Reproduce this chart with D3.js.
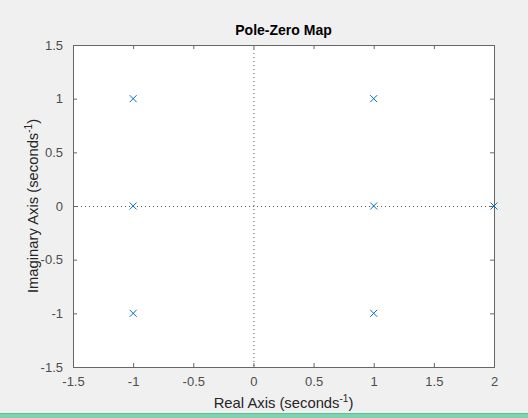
<!DOCTYPE html>
<html lang="en">
<head>
<meta charset="UTF-8">
<title>Pole-Zero Map</title>
<script src="https://cdnjs.cloudflare.com/ajax/libs/d3/7.8.5/d3.min.js"></script>
<style>
  body { margin: 0; background: #f0f0f0; font-family: "Liberation Sans", Arial, sans-serif; }
  svg { display: block; }
  .tick text { fill: #4d4d4d; font-size: 13px; }
</style>
</head>
<body>
<svg id="chart" width="528" height="418"></svg>
<script>
// poles
const poleRe = [-1, -1, -1, 1, 1, 1, 2];
const poleIm = [1, 0, -1, 1, 0, -1, 0];
const xTicks = [-1.5, -1, -0.5, 0, 0.5, 1, 1.5, 2];
const yTicks = [-1.5, -1, -0.5, 0, 0.5, 1, 1.5];

const svg = d3.select("#chart");
const W = 528, H = 418;
const m = { left: 73, top: 45, right: 494, bottom: 367 };
const axisCol = "#666";

const x = d3.scaleLinear().domain([-1.5, 2]).range([m.left, m.right]);
const y = d3.scaleLinear().domain([-1.5, 1.5]).range([m.bottom, m.top]);

svg.append("rect").attr("width", W).attr("height", H).attr("fill", "#f0f0f0");
svg.append("rect")
  .attr("x", m.left).attr("y", m.top)
  .attr("width", m.right - m.left).attr("height", m.bottom - m.top)
  .attr("fill", "#fff");

// dotted zero lines
svg.append("line")
  .attr("x1", x(0) + 0.5).attr("x2", x(0) + 0.5)
  .attr("y1", m.top).attr("y2", m.bottom)
  .attr("stroke", "#555").attr("stroke-dasharray", "1,3");
svg.append("line")
  .attr("x1", m.left).attr("x2", m.right)
  .attr("y1", y(0) + 0.5).attr("y2", y(0) + 0.5)
  .attr("stroke", "#555").attr("stroke-dasharray", "1,3");

function styleAxis(g) {
  g.select(".domain").remove();
  g.selectAll(".tick line").attr("stroke", axisCol);
}
const fmt = d => String(d);

svg.append("g").attr("transform", `translate(0,${m.bottom})`)
  .call(d3.axisBottom(x).tickValues(xTicks).tickFormat(fmt).tickSizeInner(-4).tickSizeOuter(0).tickPadding(10))
  .call(styleAxis);
svg.append("g").attr("transform", `translate(0,${m.top})`)
  .call(d3.axisTop(x).tickValues(xTicks).tickFormat("").tickSizeInner(-4).tickSizeOuter(0))
  .call(styleAxis);
svg.append("g").attr("transform", `translate(${m.left},0)`)
  .call(d3.axisLeft(y).tickValues(yTicks).tickFormat(fmt).tickSizeInner(-4).tickSizeOuter(0).tickPadding(10))
  .call(styleAxis);
svg.append("g").attr("transform", `translate(${m.right},0)`)
  .call(d3.axisRight(y).tickValues(yTicks).tickFormat("").tickSizeInner(-4).tickSizeOuter(0))
  .call(styleAxis);
svg.selectAll(".tick text").attr("font-family", "Liberation Sans, Arial, sans-serif");

// box
svg.append("rect")
  .attr("x", m.left + 0.5).attr("y", m.top + 0.5)
  .attr("width", m.right - m.left).attr("height", m.bottom - m.top)
  .attr("fill", "none").attr("stroke", axisCol);

// poles as x markers
const r = 3.5;
const poles = poleRe.map((re, i) => ({ re, im: poleIm[i] }));
svg.append("g").selectAll("path").data(poles).join("path")
  .attr("d", d => {
    const cx = x(d.re), cy = y(d.im);
    return `M${cx - r},${cy - r}L${cx + r},${cy + r}M${cx - r},${cy + r}L${cx + r},${cy - r}`;
  })
  .attr("stroke", "#0072bd").attr("stroke-width", 1).attr("fill", "none");

// title and labels
svg.append("text")
  .attr("x", (m.left + m.right) / 2).attr("y", 35)
  .attr("text-anchor", "middle").attr("font-size", 14).attr("font-weight", "bold")
  .attr("fill", "#000").text("Pole-Zero Map");

const xl = svg.append("text")
  .attr("x", (m.left + m.right) / 2).attr("y", 408)
  .attr("text-anchor", "middle").attr("font-size", 14.8).attr("fill", "#262626");
xl.append("tspan").text("Real Axis (seconds");
xl.append("tspan").attr("dy", -6).attr("font-size", 10).text("-1");
xl.append("tspan").attr("dy", 6).text(")");

const yl = svg.append("text")
  .attr("transform", `translate(38,${(m.top + m.bottom) / 2}) rotate(-90)`)
  .attr("text-anchor", "middle").attr("font-size", 14.8).attr("fill", "#262626");
yl.append("tspan").text("Imaginary Axis (seconds");
yl.append("tspan").attr("dy", -6).attr("font-size", 10).text("-1");
yl.append("tspan").attr("dy", 6).text(")");

// bottom strip
svg.append("rect").attr("x", 0).attr("y", 413).attr("width", W).attr("height", 5).attr("fill", "#7dd3b0");
svg.append("line").attr("x1", 0).attr("x2", W).attr("y1", 413.5).attr("y2", 413.5).attr("stroke", "#5fbf98");
</script>
</body>
</html>
